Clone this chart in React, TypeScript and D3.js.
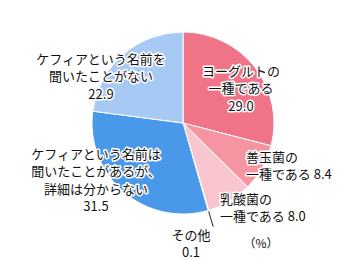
import React from "react";
import * as d3 from "d3";

const categories = [
  "ヨーグルトの一種である",
  "善玉菌の一種である",
  "乳酸菌の一種である",
  "その他",
  "ケフィアという名前は聞いたことがあるが、詳細は分からない",
  "ケフィアという名前を聞いたことがない",
];
const values = [29.0, 8.4, 8.0, 0.1, 31.5, 22.9];
const labelLines = [
  ["ヨーグルトの", "一種である", "29.0"],
  ["善玉菌の", "一種である 8.4"],
  ["乳酸菌の", "一種である 8.0"],
  ["その他", "0.1"],
  ["ケフィアという名前は", "聞いたことがあるが、", "詳細は分からない", "31.5"],
  ["ケフィアという名前を", "聞いたことがない", "22.9"],
];
const colors = ["#F07487", "#F595A1", "#F9C6CF", "#E8E8E8", "#4A98E9", "#A7CAF5"];
const unitLabel = "（%）";

const W = 360;
const H = 260;
const cx = 183;
const cy = 123;
const R = 91;
const lineH = 17.5;

// label layout: x, y of first line center, anchor
const labelLayout = [
  { x: 241, y: 71, anchor: "middle" },
  { x: 246, y: 157, anchor: "start" },
  { x: 220, y: 199, anchor: "start" },
  { x: 191, y: 235, anchor: "middle" },
  { x: 96, y: 154, anchor: "middle" },
  { x: 101, y: 59, anchor: "middle" },
];

export default function App() {
  const pie = d3
    .pie<number>()
    .sort(null)
    .value((d) => d)
    .startAngle(0)
    .endAngle(2 * Math.PI);
  const arcs = pie(values);
  const arc = d3.arc<d3.PieArcDatum<number>>().innerRadius(0).outerRadius(R);

  const other = arcs[3];
  const midA = (other.startAngle + other.endAngle) / 2;
  const lx1 = Math.sin(midA) * (R + 1);
  const ly1 = -Math.cos(midA) * (R + 1);
  const lx2 = Math.sin(midA) * (R + 17);
  const ly2 = -Math.cos(midA) * (R + 17);

  const font = "'Noto Sans CJK JP', 'Noto Sans', sans-serif";

  return (
    <svg
      width={W}
      height={H}
      style={{ position: "absolute", left: 0, top: 0, background: "#fff" }}
      fontFamily={font}
    >
      <g transform={`translate(${cx},${cy})`}>
        {arcs.map((a, i) => (
          <path
            key={categories[i]}
            d={arc(a) || ""}
            fill={colors[i]}
            stroke="#fff"
            strokeWidth={1}
          />
        ))}
        <line x1={lx1} y1={ly1} x2={lx2} y2={ly2} stroke="#222" strokeWidth={1} />
      </g>
      {labelLines.map((lines, i) => (
        <text
          key={"l" + i}
          textAnchor={labelLayout[i].anchor as any}
          fontSize={13}
          fill="#111"
          stroke="#fff"
          strokeWidth={3}
          strokeLinejoin="round"
          style={{ paintOrder: "stroke" }}
        >
          {lines.map((t, j) => (
            <tspan
              key={j}
              x={labelLayout[i].x}
              y={labelLayout[i].y + j * lineH + 4.5}
            >
              {t}
            </tspan>
          ))}
        </text>
      ))}
      <text x={261} y={247.5} textAnchor="middle" fontSize={12} fill="#111">
        {unitLabel}
      </text>
    </svg>
  );
}
